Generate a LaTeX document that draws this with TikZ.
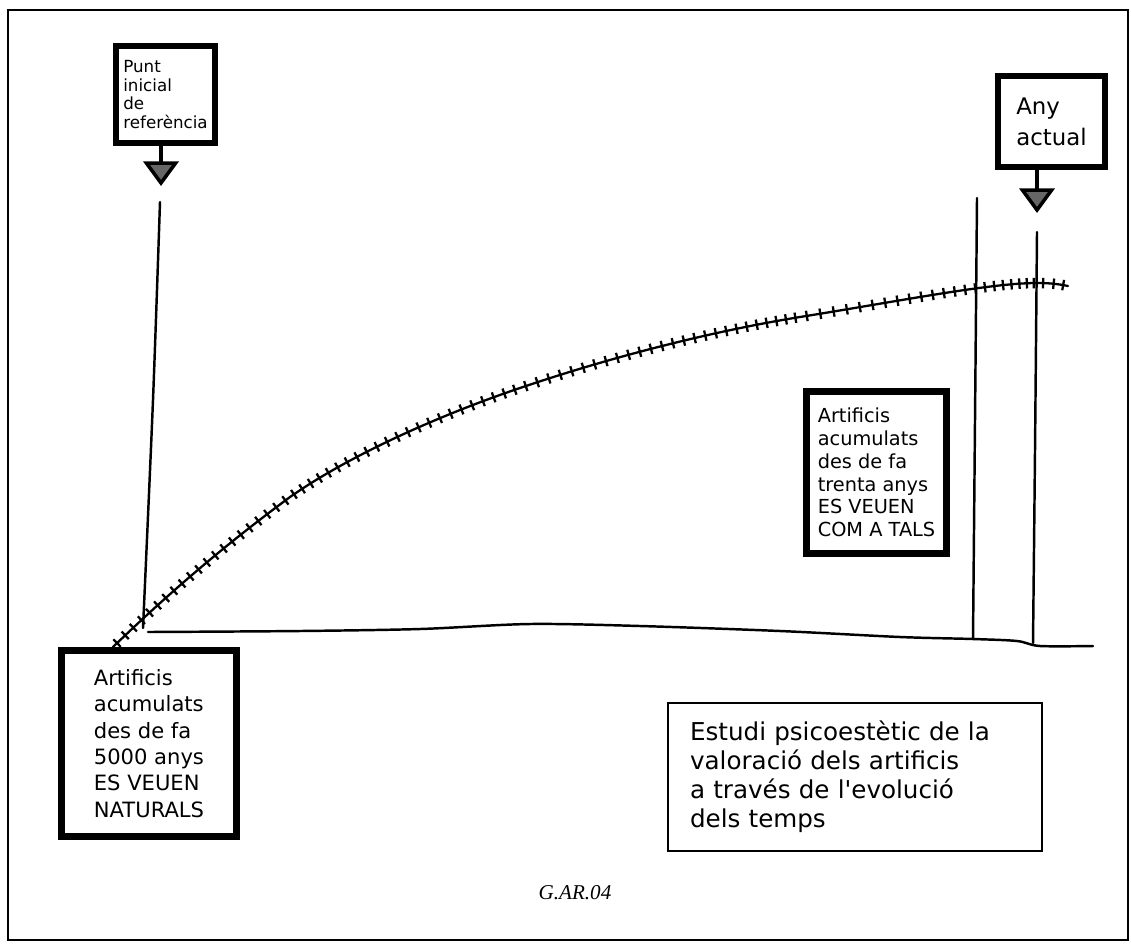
\documentclass[tikz,border=0pt]{standalone}
\usepackage{fontspec}
\newfontfamily\manuscrit{DejaVu Sans}
\newfontfamily\peupag{Liberation Serif}
\usepackage{tikz}
\usetikzlibrary{arrows.meta,positioning}
\tikzset{
  cartell/.style={draw,fill=white,align=left,inner sep=0pt},
  nota/.style={draw,line width=1.1pt,align=left,inner sep=0pt},
  fletxa/.style={line width=2.4pt,-{Triangle[length=14pt,width=20pt,line width=2pt,fill=black!60]}},
  eix/.style={line width=1.4pt,line cap=round},
  corba/.style={line width=1.3pt,line cap=round},
  tic/.style={draw,line width=1.3pt,inner sep=0pt,minimum width=0pt,minimum height=0.21cm,sloped}
}

\begin{document}
\begin{tikzpicture}[x=0.02cm,y=-0.02cm]
\useasboundingbox (0,0) rectangle (1131,943);
\draw[line width=0.6pt] (8,10) rectangle (1128,940);
% eixos
\draw[eix] plot[smooth] coordinates {(148,632) (300,631) (420,629) (530,624) (640,626) (780,631) (900,637) (973,639) (1017,641) (1040,646) (1093,646)};
\draw[eix] plot[smooth] coordinates {(160,202) (153,400) (143,628)};
\draw[eix] plot[smooth] coordinates {(977,198) (975,420) (973,639)};
\draw[eix] plot[smooth] coordinates {(1037,232) (1035,450) (1033,643)};
% corba de valoracio, amb les marques
\coordinate (k0) at (113,647); \coordinate (c1a) at (170,592); \coordinate (c1b) at (225,545);
\coordinate (k1) at (290,497); \coordinate (c2a) at (350,455); \coordinate (c2b) at (440,415);
\coordinate (k2) at (520,388); \coordinate (c3a) at (620,354); \coordinate (c3b) at (720,330);
\coordinate (k3) at (800,317); \coordinate (c4a) at (900,301); \coordinate (c4b) at (990,283);
\coordinate (k4) at (1037,283); \coordinate (c5a) at (1050,283); \coordinate (c5b) at (1058,284);
\coordinate (k5) at (1068,286);
\draw[corba] (k0) .. controls (c1a) and (c1b) .. (k1) .. controls (c2a) and (c2b) .. (k2)
  .. controls (c3a) and (c3b) .. (k3) .. controls (c4a) and (c4b) .. (k4) .. controls (c5a) and (c5b) .. (k5);
\foreach \pa/\qa/\qb/\pb/\n in {k0/c1a/c1b/k1/21,k1/c2a/c2b/k2/23,k2/c3a/c3b/k3/26,k3/c4a/c4b/k4/22,k4/c5a/c5b/k5/3}
  \foreach \i in {1,...,\n}{
    \pgfmathsetmacro\t{(\i-0.5)/\n}
    \path (\pa) .. controls (\qa) and (\qb) .. (\pb) node[tic,pos=\t] {};
  }
% cartells
\node[cartell,line width=3.2pt,minimum width=1.98cm,minimum height=1.94cm,font=\manuscrit\fontsize{9.5}{10.5}\selectfont] (inici) at (165.5,94.5) {Punt\\inicial\\de\\referència};
\node[cartell,line width=3.2pt,minimum width=2.14cm,minimum height=1.82cm,font=\manuscrit\fontsize{13}{17.5}\selectfont] (actual) at (1051.5,121.5) {Any\\actual};
\coordinate (fiA) at (161,186);
\coordinate (fiB) at (1037,213);
\draw[fletxa] (inici.south -| fiA) -- (fiA);
\draw[fletxa] (actual.south -| fiB) -- (fiB);
% quadres
\node[cartell,line width=3.8pt,minimum width=2.8cm,minimum height=3.24cm,font=\manuscrit\fontsize{11}{13}\selectfont] (trenta) at (876.5,472.5) {Artificis\\acumulats\\des de fa\\trenta anys\\ES VEUEN\\COM A TALS};
\node[cartell,line width=4pt,minimum width=3.5cm,minimum height=3.72cm,font=\manuscrit\fontsize{12}{15}\selectfont] (cincmil) at (149,743.5) {Artificis\\acumulats\\des de fa\\5000 anys\\ES VEUEN\\NATURALS};
\node[nota,minimum width=7.48cm,minimum height=2.96cm,text width=6.6cm,inner xsep=0.44cm,font=\manuscrit\fontsize{14}{16.5}\selectfont] (estudi) at (855,777) {Estudi psicoestètic de la\\valoració dels artificis\\a través de l'evolució\\dels temps};
\node[font=\peupag\itshape\fontsize{12}{14}\selectfont] (codi) at (575,893) {G.AR.04};
\end{tikzpicture}
\end{document}
